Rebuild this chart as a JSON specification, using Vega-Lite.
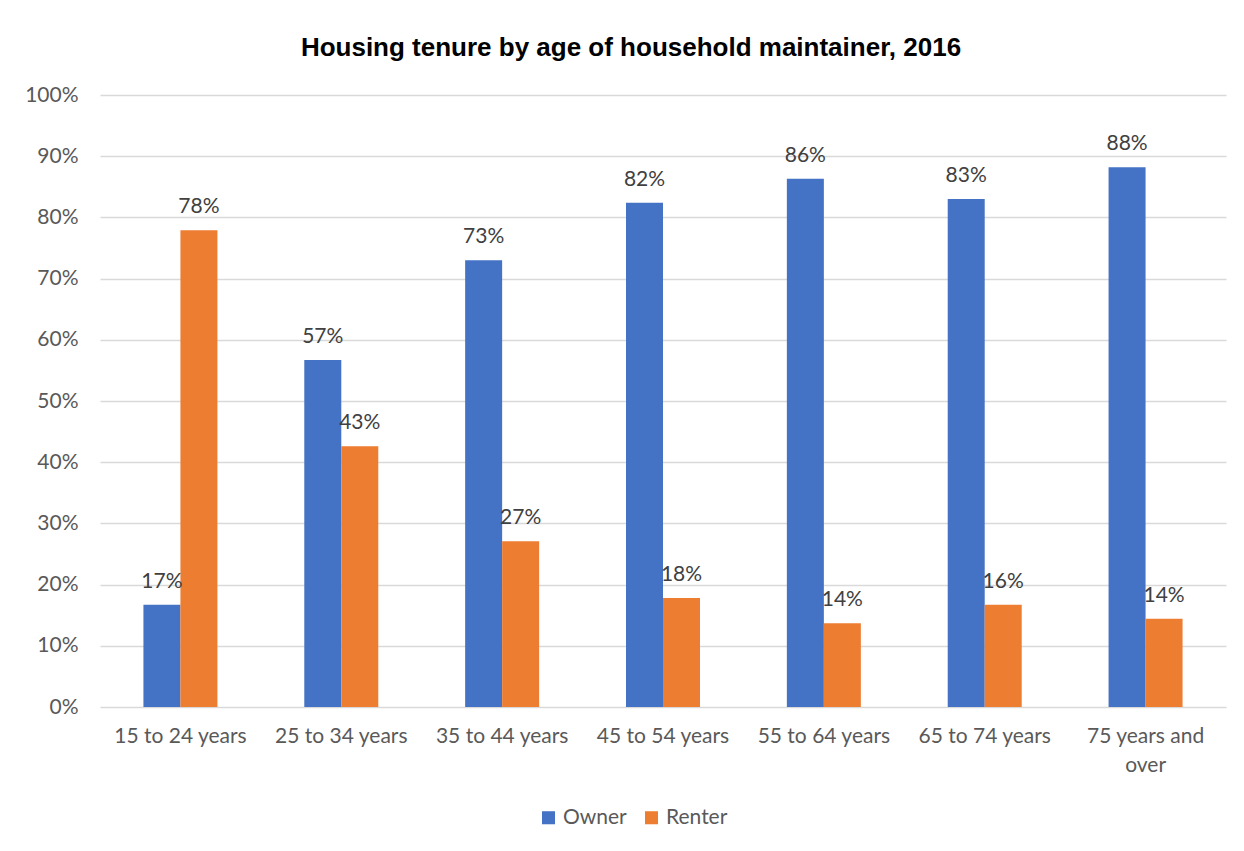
{
  "$schema": "https://vega.github.io/schema/vega-lite/v6.json",
  "width": 1126,
  "height": 612,
  "autosize": {"type": "none"},
  "padding": {"left": 100, "top": 95, "right": 18, "bottom": 144},
  "background": "white",
  "title": {
    "text": "Housing tenure by age of household maintainer, 2016",
    "font": "Liberation Sans",
    "fontSize": 26,
    "fontWeight": "bold",
    "color": "#000000",
    "anchor": "middle",
    "offset": 23,
    "dx": -32
  },
  "config": {
    "view": {"stroke": null},
    "axis": {"labelFont": "Lato", "labelColor": "#595959", "labelFontSize": 21}
  },
  "data": {
    "values": [
      {"age": "15 to 24 years", "tenure": "Owner", "pct": 0.167, "label": "17%"},
      {"age": "15 to 24 years", "tenure": "Renter", "pct": 0.779, "label": "78%"},
      {"age": "25 to 34 years", "tenure": "Owner", "pct": 0.567, "label": "57%"},
      {"age": "25 to 34 years", "tenure": "Renter", "pct": 0.426, "label": "43%"},
      {"age": "35 to 44 years", "tenure": "Owner", "pct": 0.730, "label": "73%"},
      {"age": "35 to 44 years", "tenure": "Renter", "pct": 0.271, "label": "27%"},
      {"age": "45 to 54 years", "tenure": "Owner", "pct": 0.824, "label": "82%"},
      {"age": "45 to 54 years", "tenure": "Renter", "pct": 0.178, "label": "18%"},
      {"age": "55 to 64 years", "tenure": "Owner", "pct": 0.863, "label": "86%"},
      {"age": "55 to 64 years", "tenure": "Renter", "pct": 0.137, "label": "14%"},
      {"age": "65 to 74 years", "tenure": "Owner", "pct": 0.830, "label": "83%"},
      {"age": "65 to 74 years", "tenure": "Renter", "pct": 0.167, "label": "16%"},
      {"age": "75 years and over", "tenure": "Owner", "pct": 0.882, "label": "88%"},
      {"age": "75 years and over", "tenure": "Renter", "pct": 0.144, "label": "14%"}
    ]
  },
  "encoding": {
    "x": {
      "field": "age",
      "type": "nominal",
      "sort": null,
      "title": null,
      "scale": {"paddingInner": 0.54, "paddingOuter": 0.27},
      "axis": {
        "labelAngle": 0,
        "ticks": false,
        "domain": false,
        "labelPadding": 18,
        "labelLineHeight": 29,
        "labelExpr": "datum.value == '75 years and over' ? ['75 years and', 'over'] : datum.value"
      }
    },
    "xOffset": {"field": "tenure", "type": "nominal", "sort": ["Owner", "Renter"], "scale": {"paddingInner": 0, "paddingOuter": 0}},
    "y": {
      "field": "pct",
      "type": "quantitative",
      "title": null,
      "scale": {"domain": [0, 1], "nice": false},
      "axis": {
        "format": ".0%",
        "values": [0, 0.1, 0.2, 0.3, 0.4, 0.5, 0.6, 0.7, 0.8, 0.9, 1.0],
        "labelOverlap": false,
        "ticks": false,
        "domain": false,
        "gridColor": "#d9d9d9",
        "gridWidth": 1.3,
        "labelPadding": 22
      }
    }
  },
  "layer": [
    {
      "mark": {"type": "bar"},
      "encoding": {
        "color": {
          "field": "tenure",
          "type": "nominal",
          "sort": ["Owner", "Renter"],
          "scale": {"domain": ["Owner", "Renter"], "range": ["#4472C4", "#ED7D31"]},
          "legend": {
            "title": null,
            "orient": "none",
            "legendX": 438,
            "legendY": 712,
            "direction": "horizontal",
            "symbolType": "square",
            "symbolSize": 170,
            "symbolStrokeWidth": 0,
            "labelFont": "Lato",
            "labelFontSize": 21,
            "labelColor": "#595959",
            "columnPadding": 14,
            "labelOffset": 4
          }
        }
      }
    },
    {
      "mark": {"type": "text", "dy": -13, "font": "Lato", "fontSize": 21, "color": "#404040", "baseline": "bottom"},
      "encoding": {"text": {"field": "label"}}
    }
  ]
}
